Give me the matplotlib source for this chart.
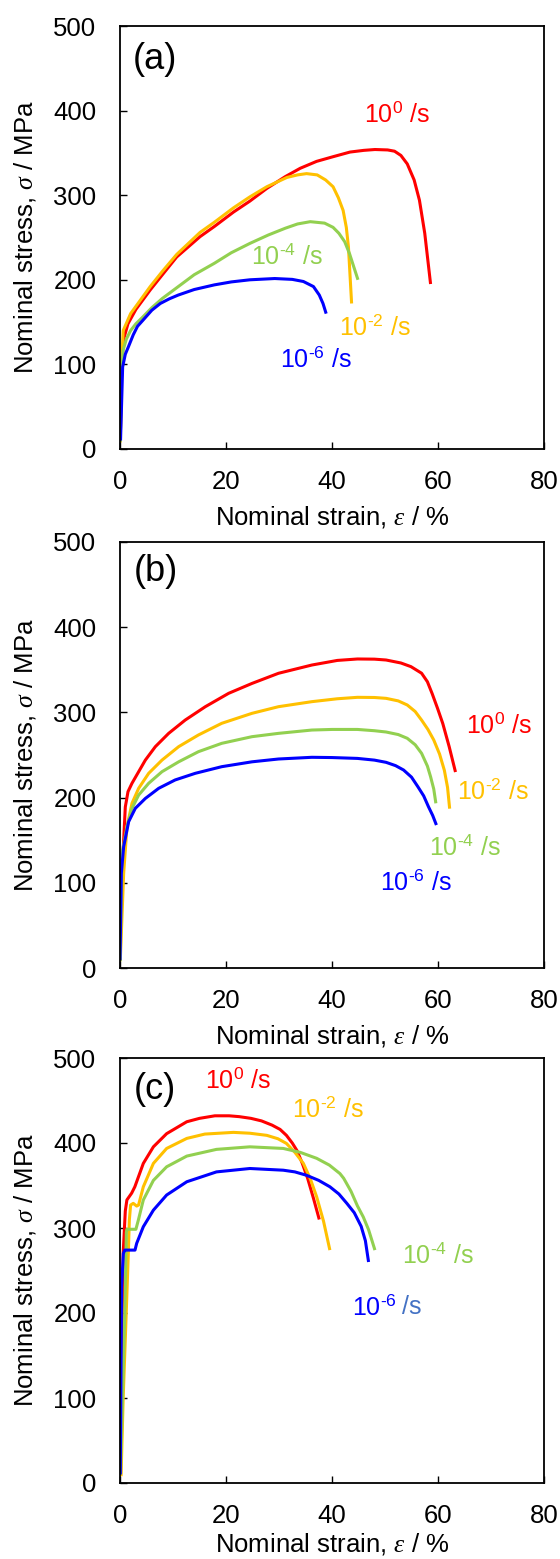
import matplotlib
matplotlib.use("Agg")
import matplotlib.pyplot as plt

plt.rcParams['font.family'] = ['Liberation Sans', 'DejaVu Sans']
plt.rcParams['mathtext.fontset'] = 'custom'
plt.rcParams['mathtext.rm'] = 'Liberation Sans'
plt.rcParams['mathtext.it'] = 'Liberation Serif:italic'
plt.rcParams['mathtext.bf'] = 'Liberation Sans:bold'

RED = '#FF0000'
ORANGE = '#FFC000'
GREEN = '#92D050'
BLUE = '#0000FF'
BLUE2 = '#4472C4'

# ---------------- panel (a) ----------------
a_red_x = [0.05, 0.3, 0.7, 1.5, 3.0, 5.7, 8.0, 10.7, 15.1, 17.8, 21.4, 24.5, 27.7, 31.2, 34.0, 37.1, 40.2, 43.4, 46.0, 48.1, 50.5, 51.8, 53.0, 54.2, 55.5, 56.5, 57.5, 58.6]
a_red_y = [8, 100, 130, 148, 165, 188, 206, 227, 251, 263, 280, 293, 308, 322, 331.8, 340, 345.5, 351, 353, 354, 353.5, 352, 347, 337, 318, 294, 255, 195]
a_orange_x = [0.05, 0.3, 0.6, 2.0, 5.7, 8.0, 10.7, 15.1, 17.8, 21.4, 24.5, 27.7, 31.5, 33.5, 35.2, 37.2, 38.8, 40.2, 41.2, 42.1, 42.7, 43.1, 43.7]
a_orange_y = [8, 100, 140, 160, 192, 210, 230, 256, 268, 285, 298, 310, 321, 324, 325.5, 324, 318, 310, 297, 282, 262, 239, 172]
a_green_x = [0.05, 0.3, 0.6, 1.2, 2.0, 3.0, 4.3, 6.0, 8.0, 11.0, 14.0, 17.8, 21.0, 24.5, 28.0, 31.2, 33.5, 35.9, 38.6, 40.2, 41.3, 42.4, 43.3, 44.9]
a_green_y = [8, 90, 117, 130, 140, 148, 156, 167, 178, 192, 206, 219.5, 232, 243, 253, 261, 266, 268.7, 267, 262, 255, 245, 231, 200]
a_blue_x = [0.1, 0.5, 1.0, 1.6, 2.5, 3.3, 4.3, 6.0, 7.6, 9.3, 11.0, 14.0, 17.8, 21.0, 24.5, 29.2, 32.5, 34.6, 36.5, 37.6, 38.3, 38.9]
a_blue_y = [10, 97, 112, 121, 135, 145, 152, 164, 172, 177.5, 182, 188.5, 194, 197.5, 200, 201.5, 200.5, 198, 192, 182, 172, 160]

# ---------------- panel (b) ----------------
b_red_x = [0.0, 0.3, 0.69, 1.0, 1.51, 2.26, 3.52, 4.78, 6.67, 9.18, 12.3, 16.1, 20.5, 24.9, 29.9, 36.2, 41.0, 44.8, 48.0, 50.2, 53.0, 54.9, 56.9, 58.0, 58.9, 59.9, 60.9, 62.1, 63.3]
b_red_y = [9, 100, 150, 189, 207, 216.8, 230.4, 244, 259.8, 275.4, 291, 306.7, 322.4, 334, 345.9, 355.6, 361, 362.7, 362.5, 361.5, 358, 353.7, 346, 336, 322, 305, 287, 260, 230]
b_orange_x = [0.05, 0.69, 1.32, 2.26, 3.52, 5.41, 7.92, 11.07, 14.8, 19.2, 24.9, 29.9, 36.2, 41.0, 44.8, 48.0, 50.2, 52.5, 54.2, 55.7, 56.9, 58.1, 59.2, 60.3, 61.2, 61.8, 62.2]
b_orange_y = [8, 111, 165.8, 193.3, 210.9, 228.5, 244, 259.8, 273.5, 287.2, 298.9, 306.7, 312.6, 316, 317.7, 317.5, 316.5, 313.5, 308.7, 301, 291, 280, 267.6, 251, 232, 212, 187]
b_green_x = [0.05, 0.38, 1.32, 2.26, 3.52, 5.41, 7.92, 11.07, 14.8, 19.2, 24.9, 29.9, 36.2, 40.0, 44.8, 48.0, 50.2, 52.5, 54.2, 55.7, 56.9, 58.0, 58.6, 59.2, 59.6]
b_green_y = [8, 134.6, 165.8, 187.4, 203, 216.8, 230.4, 242, 253.9, 263.7, 271.5, 275.4, 279.3, 280, 280, 278.5, 277, 274, 269.6, 262, 252, 237, 224.5, 210, 193.3]
b_blue_x = [0.0, 0.25, 0.69, 1.63, 2.89, 4.78, 7.3, 10.4, 14.2, 19.2, 24.9, 29.9, 36.2, 40.0, 44.8, 48.0, 50.2, 52.0, 53.5, 55.0, 56.2, 57.3, 58.2, 59.0, 59.7]
b_blue_y = [9, 111, 142.4, 171.7, 187.4, 199, 210.9, 220.7, 228.5, 236.3, 242, 245.3, 247.3, 247, 246, 244, 241.4, 237.5, 232.4, 224, 212.8, 202, 189.3, 179, 167.8]

# ---------------- panel (c) ----------------
c_red_x = [0.1, 0.3, 0.6, 1.0, 1.3, 2.2, 2.8, 4.4, 6.3, 8.8, 12.6, 15.0, 17.9, 20.6, 22.5, 24.7, 26.7, 28.7, 30.2, 31.4, 32.5, 33.4, 34.4, 35.4, 36.5, 37.6]
c_red_y = [11, 150, 270, 320, 333, 341, 348.5, 376, 395.5, 411, 425, 429, 432, 432, 431, 429, 426, 421, 416, 409, 400, 391, 376, 358.5, 335, 310]
c_orange_x = [0.2, 0.6, 1.13, 1.57, 1.76, 2.0, 2.5, 3.15, 3.5, 4.4, 6.3, 8.8, 12.6, 16.0, 21.4, 24.5, 27.7, 29.8, 31.4, 33.0, 34.6, 35.9, 37.1, 38.4, 39.6]
c_orange_y = [8, 100, 192, 270, 309, 327, 329, 325.8, 327, 348.5, 376, 393.6, 405.4, 410.5, 412.5, 411.5, 409, 405, 399.5, 389, 376, 358, 336.8, 308, 274]
c_green_x = [0.1, 0.9, 1.2, 1.3, 3.0, 3.45, 4.4, 6.3, 8.8, 12.6, 18.2, 24.5, 30.8, 34.0, 37.1, 39.5, 41.5, 42.2, 43.6, 44.8, 45.9, 46.9, 48.1]
c_green_y = [10, 200, 295, 298.5, 298.5, 309, 333, 356, 372, 384.6, 392.5, 395.5, 393.6, 389, 382, 374, 364, 358.5, 343, 326, 313, 298, 274]
c_blue_x = [0.05, 0.3, 0.63, 0.9, 1.13, 2.83, 3.15, 4.4, 6.3, 8.8, 12.6, 18.2, 24.5, 30.8, 33.0, 35.2, 37.5, 39.6, 41.3, 42.8, 44.2, 45.5, 46.3, 46.9]
c_blue_y = [10, 231, 270, 274, 274, 274, 282, 301.5, 321, 338.8, 354.4, 366, 370, 368, 366, 362, 356, 348.5, 340, 329, 318, 302, 285, 260]

panels = [
    dict(name='(a)', name_xy=(2.4, 460), xlabelpad=7,
         series=[(a_red_x, a_red_y, RED), (a_orange_x, a_orange_y, ORANGE),
                 (a_green_x, a_green_y, GREEN), (a_blue_x, a_blue_y, BLUE)],
         labels=[(46.0, 395, r'10$^{0}$ /s', RED), (24.8, 227, r'10$^{\text{-4}}$ /s', GREEN),
                 (41.4, 144, r'10$^{\text{-2}}$ /s', ORANGE), (30.2, 106, r'10$^{\text{-6}}$ /s', BLUE)]),
    dict(name='(b)', name_xy=(2.6, 465), xlabelpad=7,
         series=[(b_red_x, b_red_y, RED), (b_orange_x, b_orange_y, ORANGE),
                 (b_green_x, b_green_y, GREEN), (b_blue_x, b_blue_y, BLUE)],
         labels=[(65.3, 285, r'10$^{0}$ /s', RED), (63.5, 207, r'10$^{\text{-2}}$ /s', ORANGE),
                 (58.3, 141, r'10$^{\text{-4}}$ /s', GREEN), (49.0, 100, r'10$^{\text{-6}}$ /s', BLUE)]),
    dict(name='(c)', name_xy=(2.6, 463), xlabelpad=2,
         series=[(c_red_x, c_red_y, RED), (c_orange_x, c_orange_y, ORANGE),
                 (c_green_x, c_green_y, GREEN), (c_blue_x, c_blue_y, BLUE)],
         labels=[(16.1, 473, r'10$^{0}$ /s', RED), (32.4, 439, r'10$^{\text{-2}}$ /s', ORANGE),
                 (53.2, 268, r'10$^{\text{-4}}$ /s', GREEN), (43.8, 207, r'10$^{\text{-6}}$', BLUE),
                 (53.3, 207, '/s', BLUE2)]),
]

W, H = 560, 1559
fig = plt.figure(figsize=(W / 100, H / 100), dpi=100)
boxes = [(26, 449), (542, 968), (1058, 1483)]
left_px, right_px = 120, 544

x_ticks = [0, 20, 40, 60, 80]
y_ticks = [0, 100, 200, 300, 400, 500]

for p, (top, bot) in zip(panels, boxes):
    ax = fig.add_axes([left_px / W, (H - bot) / H, (right_px - left_px) / W, (bot - top) / H])
    for x, y, c in p['series']:
        ax.plot(x, y, color=c, lw=2.2, solid_joinstyle='round', solid_capstyle='butt')
    for x, y, s, c in p['labels']:
        ax.text(x, y, s, color=c, fontsize=18, ha='left', va='center')
    ax.text(p['name_xy'][0], p['name_xy'][1], p['name'], fontsize=26, ha='left', va='center')
    ax.set_xlim(0, 80)
    ax.set_ylim(0, 500)
    ax.set_xticks(x_ticks)
    ax.set_yticks(y_ticks)
    ax.tick_params(direction='in', length=5, width=1.0, labelsize=18.5, top=False, right=False)
    ax.tick_params(axis='x', pad=15)
    ax.tick_params(axis='y', pad=17)
    for sp in ax.spines.values():
        sp.set_linewidth(1.3)
        sp.set_color('black')
    ax.set_xlabel(r'Nominal strain, $\varepsilon$ / %', fontsize=18.5, labelpad=p['xlabelpad'])
    ax.set_ylabel(r'Nominal stress, $\sigma$ / MPa', fontsize=18.5, labelpad=11)

fig.savefig('out.png', dpi=100)
